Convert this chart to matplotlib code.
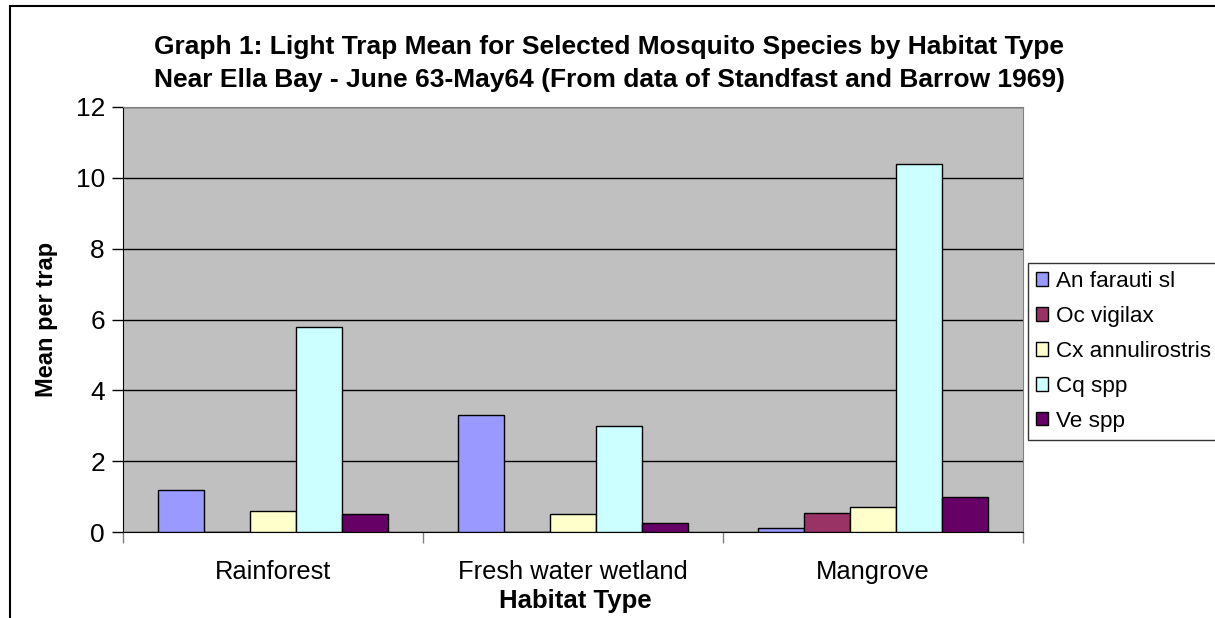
import numpy as np
import matplotlib
matplotlib.use("Agg")
import matplotlib.pyplot as plt
from matplotlib.patches import Rectangle

plt.rcParams['font.family'] = ['Liberation Sans', 'DejaVu Sans']

habitats = ['Rainforest', 'Fresh water wetland', 'Mangrove']
species = ['An farauti sl', 'Oc vigilax', 'Cx annulirostris', 'Cq spp', 'Ve spp']
an_farauti = [1.2, 3.3, 0.1]
oc_vigilax = [0.0, 0.0, 0.55]
cx_annulirostris = [0.6, 0.5, 0.7]
cq_spp = [5.8, 3.0, 10.4]
ve_spp = [0.5, 0.25, 1.0]
colors = ['#9999FF', '#993366', '#FFFFCC', '#CCFFFF', '#660066']

series = [an_farauti, oc_vigilax, cx_annulirostris, cq_spp, ve_spp]

fig = plt.figure(figsize=(12.15, 6.18), dpi=100)
ax = fig.add_axes([123 / 1215, 1 - 532 / 618, 900 / 1215, 425 / 618])
ax.set_facecolor('#C0C0C0')

x = np.arange(len(habitats))
w = 1 / 6.5
for i, (vals, name, col) in enumerate(zip(series, species, colors)):
    ax.bar(x + (i - 2) * w, vals, width=w, color=col, edgecolor='black',
           linewidth=1, label=name, zorder=3)

ax.set_xlim(-0.5, 2.5)
ax.set_ylim(0, 12)
ax.set_yticks(range(0, 13, 2))
ax.yaxis.grid(True, color='black', linewidth=1, zorder=1)
ax.set_axisbelow(True)
ax.tick_params(axis='y', direction='out', length=8, width=1, labelsize=19, pad=5)

# category boundaries get the tick marks, names sit in between
ax.set_xticks([-0.5, 0.5, 1.5, 2.5])
ax.set_xticklabels([])
ax.set_xticks(x, minor=True)
ax.set_xticklabels(habitats, minor=True)
ax.tick_params(axis='x', which='major', direction='out', length=8, width=1, color='#808080')
ax.tick_params(axis='x', which='minor', length=0, labelsize=18.4, pad=20)

for s in ['top', 'right']:
    ax.spines[s].set_color('#808080')
for s in ['left', 'bottom']:
    ax.spines[s].set_color('black')

ax.set_ylabel('Mean per trap', fontsize=17, fontweight='bold', labelpad=13)
fig.text(575 / 1215, 1 - 601 / 618, 'Habitat Type', fontsize=18.5, fontweight='bold',
         ha='center', va='center')

fig.text(609 / 1215, 1 - 47 / 618,
         'Graph 1: Light Trap Mean for Selected Mosquito Species by Habitat Type',
         fontsize=19, fontweight='bold', ha='center', va='center')
fig.text(609 / 1215, 1 - 80 / 618,
         'Near Ella Bay - June 63-May64 (From data of Standfast and Barrow 1969)',
         fontsize=19, fontweight='bold', ha='center', va='center')

leg = fig.legend(loc='upper left', bbox_to_anchor=(1028 / 1215, 1 - 263 / 618),
                 fontsize=16.2, frameon=True, fancybox=False, edgecolor='black',
                 handlelength=0.55, handleheight=0.55, handletextpad=0.35,
                 labelspacing=0.62, borderpad=0.35, borderaxespad=0)
leg.get_frame().set_linewidth(1)

# outer chart border, cut off on the right and bottom like the original
fig.patches.append(Rectangle((10 / 1215, -0.1), 2, 1 - 6 / 618 + 0.1,
                             transform=fig.transFigure, fill=False,
                             edgecolor='black', linewidth=1.5))

fig.savefig('out.png', dpi=100)
